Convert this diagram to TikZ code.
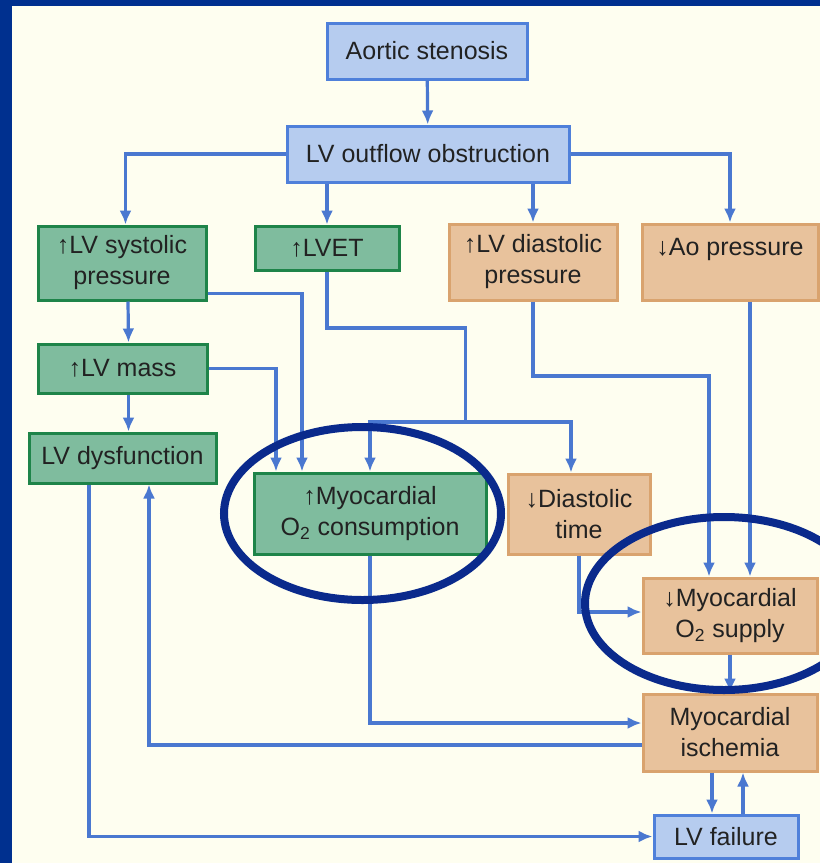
\documentclass[tikz,border=0pt]{standalone}
\usepackage{fontspec}
\setmainfont{Liberation Sans}
\usetikzlibrary{arrows.meta,positioning}

\definecolor{framenavy}{HTML}{00308F}
\definecolor{ringnavy}{HTML}{0A2A8C}
\definecolor{cream}{HTML}{FEFEF0}
\definecolor{flowblue}{HTML}{4A78D0}
\definecolor{fillblue}{HTML}{B6CCEF}
\definecolor{lineblue}{HTML}{4F80DA}
\definecolor{fillgreen}{HTML}{7FBC9E}
\definecolor{linegreen}{HTML}{1E8449}
\definecolor{filltan}{HTML}{E8C29C}
\definecolor{linetan}{HTML}{D9A36E}
\definecolor{textgray}{HTML}{222222}

\begin{document}
\begin{tikzpicture}[x=0.5pt,y=-0.5pt,>={Latex[length=7pt,width=6pt]},
  flow/.style={draw=flowblue,line width=1.6pt},
  box/.style={rectangle,line width=1.5pt,text=textgray,align=center,inner sep=0pt,
    font=\fontsize{12.5}{15.5}\selectfont},
  bluebox/.style={box,draw=lineblue,fill=fillblue},
  greenbox/.style={box,draw=linegreen,fill=fillgreen},
  tanbox/.style={box,draw=linetan,fill=filltan},
  ring/.style={draw=ringnavy,line width=4pt}]
  \useasboundingbox (0,0) rectangle (820,863);
  \clip (0,0) rectangle (820,863);
  \fill[cream] (0,0) rectangle (820,863);
  \fill[framenavy] (0,0) rectangle (820,6);
  \fill[framenavy] (0,0) rectangle (11.5,863);

  % boxes
  \node[bluebox,minimum width=100pt,minimum height=28pt] (aortic) at (427,51) {Aortic stenosis};
  \node[bluebox,minimum width=141pt,minimum height=28pt] (outflow) at (428,154) {LV outflow obstruction};
  \node[greenbox,minimum width=84pt,minimum height=37pt] (lvsys) at (122,263) {↑LV systolic\\pressure};
  \node[greenbox,minimum width=72pt,minimum height=22pt] (lvet) at (327,248) {↑LVET};
  \node[tanbox,minimum width=84pt,minimum height=38pt] (lvdia) at (533,262) {↑LV diastolic\\pressure};
  \node[tanbox,minimum width=88pt,minimum height=38pt] (aopress) at (730,262) {↓Ao pressure\\\mbox{}};
  \node[greenbox,minimum width=84.5pt,minimum height=24.5pt] (lvmass) at (122.5,368.5) {↑LV mass};
  \node[greenbox,minimum width=93.5pt,minimum height=25pt] (lvdys) at (122.5,458) {LV dysfunction};
  \node[greenbox,minimum width=116pt,minimum height=40.5pt] (consumption) at (370,513.5) {↑Myocardial\\O\textsubscript{2} consumption};
  \node[tanbox,minimum width=71pt,minimum height=40pt] (diatime) at (579,514) {↓Diastolic\\time};
  \node[tanbox,minimum width=87pt,minimum height=37.5pt] (supply) at (730,615.5) {↓Myocardial\\O\textsubscript{2} supply};
  \node[tanbox,minimum width=87pt,minimum height=38.5pt] (ischemia) at (730,732.5) {Myocardial\\ischemia};
  \node[bluebox,minimum width=72pt,minimum height=21.5pt] (failure) at (726,836.5) {LV failure};

  \coordinate (lvetbend) at (465.5,328);
  \coordinate (lvetsplit) at (465.5,422);
  \coordinate (diabend) at (709,376);

  % connectors
  \draw[flow,->] (aortic) -- (outflow);
  \draw[flow,->] (outflow.west) -| ([xshift=1.75pt]lvsys.north);
  \draw[flow,->] (outflow.south -| lvet.north) -- (lvet.north);
  \draw[flow,->] (outflow.south -| lvdia.north) -- (lvdia.north);
  \draw[flow,->] (outflow.east) -| (aopress.north);
  \draw[flow,->] ([xshift=3pt]lvsys.south) -- ([xshift=3pt]lvmass.north);
  \draw[flow,->] ([xshift=3pt]lvmass.south) -- ([xshift=3pt]lvdys.north);
  \draw[flow,->] ([yshift=4pt]lvsys.south east) -| ([xshift=-34pt]consumption.north);
  \draw[flow,->] (lvmass.east) -| ([xshift=-47pt]consumption.north);
  \draw[flow] (lvet.south) |- (lvetbend) -- (lvetsplit);
  \draw[flow,->] (lvetsplit) -| (consumption.north);
  \draw[flow,->] (lvetsplit) -| ([xshift=-4pt]diatime.north);
  \draw[flow,->] (lvdia.south) |- (diabend) -- (diabend |- supply.north);
  \draw[flow,->] ([xshift=10pt]aopress.south) -- ([xshift=10pt]supply.north);
  \draw[flow,->] (diatime.south) |- ([yshift=1.75pt]supply.west);
  \draw[flow,->] (supply.south) -- (ischemia.north);
  \draw[flow,->] (consumption.south) |- ([yshift=4.75pt]ischemia.west);
  \draw[flow,->] ([yshift=-6.25pt]ischemia.west) -| ([xshift=13.25pt]lvdys.south);
  \draw[flow,->] ([xshift=-16.75pt]lvdys.south) |- (failure.west);
  \draw[flow,->] ([xshift=-9pt]ischemia.south) -- ([xshift=-9pt]ischemia.south |- failure.north);
  \draw[flow,->] ([xshift=6.5pt]ischemia.south |- failure.north) -- ([xshift=6.5pt]ischemia.south);

  % rings
  \draw[ring] ([xshift=-3.75pt]consumption.center) ellipse [x radius=69.25pt, y radius=43.25pt];
  \draw[ring] ([xshift=-3pt,yshift=6pt]supply.center) ellipse [x radius=69.5pt, y radius=43.25pt];
\end{tikzpicture}
\end{document}
